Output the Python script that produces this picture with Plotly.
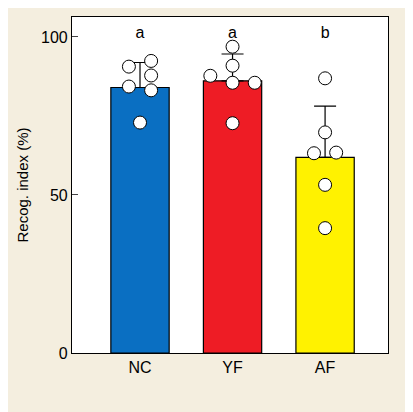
import plotly.graph_objects as go

groups = ["NC", "YF", "AF"]
means = [84.0, 86.1, 61.9]
sds = [7.9, 8.5, 16.2]
colors = ["#0a6fc2", "#ee1c25", "#fff200"]
letters = ["a", "a", "b"]
points = [
    [90.6, 92.4, 87.8, 84.3, 83.1, 72.9],
    [96.9, 90.9, 87.7, 85.5, 85.5, 72.7],
    [86.9, 69.8, 63.2, 63.4, 53.2, 39.5],
]
offsets = [
    [-0.12, 0.12, 0.12, -0.12, 0.12, 0.0],
    [0.0, 0.0, -0.24, 0.0, 0.24, 0.0],
    [0.0, 0.0, -0.12, 0.12, 0.0, 0.0],
]

xs = list(range(len(groups)))
fig = go.Figure()
fig.add_trace(go.Bar(x=xs, y=means, width=0.63, marker=dict(color=colors, line=dict(color="black", width=1.2)),
                     error_y=dict(type="data", array=sds, arrayminus=[0]*3, color="black", thickness=1.2, width=11),
                     showlegend=False))
px, py = [], []
for i, (pts, offs) in enumerate(zip(points, offsets)):
    for v, o in zip(pts, offs):
        px.append(i + o); py.append(v)
fig.add_trace(go.Scatter(x=px, y=py, mode="markers", showlegend=False,
                         marker=dict(size=13, color="white", line=dict(color="black", width=1))))
fig.add_trace(go.Scatter(x=xs, y=[101]*3, mode="text", text=letters, showlegend=False,
                         textfont=dict(size=16, color="black", family="Liberation Sans")))
fig.update_layout(
    width=405, height=404, margin=dict(l=64, r=25, t=9, b=59),
    paper_bgcolor="#f4eedf", plot_bgcolor="white",
    font=dict(family="Liberation Sans", size=16, color="black"),
    xaxis=dict(range=[-0.735, 2.68], tickvals=xs, ticktext=groups, showline=True, mirror=True,
               linecolor="black", linewidth=1.2, ticks="", showgrid=False, zeroline=False),
    yaxis=dict(range=[0, 106.3], tickvals=[0, 50, 100], showline=True, mirror=True,
               linecolor="black", linewidth=1.2, ticks="inside", ticklen=6, showgrid=False, zeroline=False,
               title=dict(text="Recog. index (%)", font=dict(size=15), standoff=8)),
)
fig.write_html("out.html")
